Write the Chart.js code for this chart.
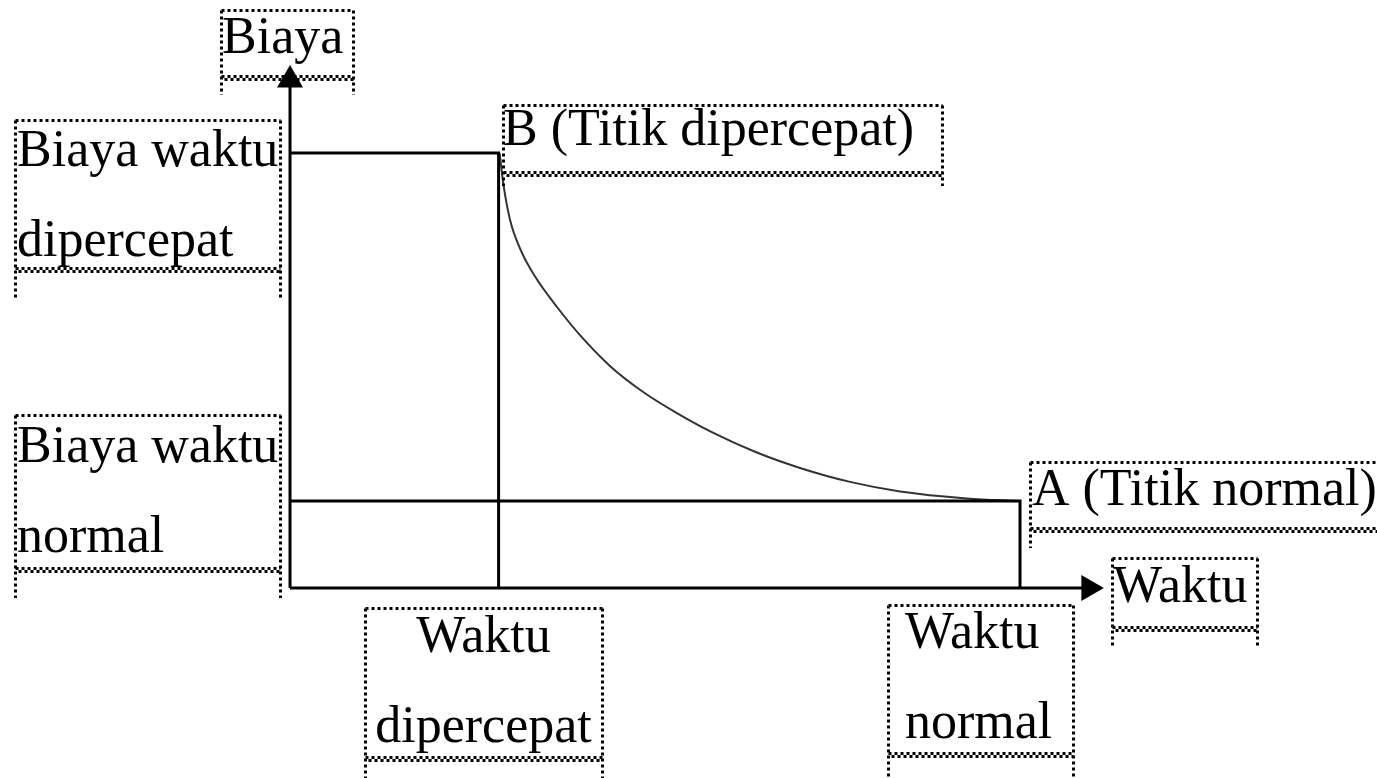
<!DOCTYPE html>
<html>
<head>
<meta charset="utf-8">
<title>Biaya - Waktu</title>
<script src="https://cdn.jsdelivr.net/npm/chart.js@4/dist/chart.umd.min.js"></script>
<style>
  body { margin: 0; background: #fff; }
  canvas { display: block; }
</style>
</head>
<body>
<canvas id="costTime" width="1377" height="778"></canvas>
<script>
// labels
var axisTitles = ['Biaya', 'Waktu'];
var timeLabels = [['Waktu', 'dipercepat'], ['Waktu', 'normal']];
var costLabels = [['Biaya waktu', 'dipercepat'], ['Biaya waktu', 'normal']];
var pointLabels = ['B (Titik dipercepat)', 'A (Titik normal)'];

// values (crash, normal)
var timeValues = [2, 7];
var costValues = [5, 1];

// time-cost curve from B to A
var curveTime = [2.01, 2.045, 2.11, 2.21, 2.35, 2.56, 2.80, 3.07, 3.39, 3.71, 4.03, 4.47, 4.89, 5.37, 5.85, 6.49, 7];
var curveCost = [5.0, 4.65, 4.23, 3.89, 3.58, 3.23, 2.88, 2.55, 2.25, 2.01, 1.80, 1.56, 1.38, 1.22, 1.11, 1.03, 1];

// axis ends (arrow heads)
var axisEnd = { time: 7.66, cost: 5.84 };

var curve = curveTime.map(function (t, i) { return { x: t, y: curveCost[i] }; });

// text boxes (layout only)
var boxes = [
    { lines: [axisTitles[0]], l: 221, t: 10, r: 353, b: 76, tail: 95, tx: 222, ty: [53] },
    { lines: costLabels[0], l: 15, t: 120, r: 280, b: 268, tail: 298, tx: 17, ty: [166, 256] },
    { lines: [pointLabels[0]], l: 503, t: 105, r: 942, b: 172, tail: 186, tx: 503, ty: [145] },
    { lines: costLabels[1], l: 15, t: 415, r: 280, b: 568, tail: 598, tx: 17, ty: [462, 552] },
    { lines: [pointLabels[1]], l: 1030, t: 462, r: 1382, b: 528, tail: 548, tx: 1032, ty: [505] },
    { lines: [axisTitles[1]], l: 1112, t: 558, r: 1257, b: 627, tail: 647, tx: 1113, ty: [602] },
    { lines: timeLabels[0], l: 365, t: 608, r: 602, b: 757, tail: 780, center: true, ty: [652, 742] },
    { lines: timeLabels[1], l: 888, t: 605, r: 1073, b: 753, tail: 780, tx: 905, ty: [648, 738] }
];

function seg(c, x1, y1, x2, y2) {
    c.beginPath();
    c.moveTo(x1, y1);
    c.lineTo(x2, y2);
    c.stroke();
}

var textBoxes = {
    id: 'textBoxes',
    afterDatasetsDraw: function (chart) {
        var c = chart.ctx;
        boxes.forEach(function (b) {
            c.save();
            c.strokeStyle = '#000';
            c.lineWidth = 3;
            c.setLineDash([3, 3]);
            var l = b.l + 0.5, r = b.r + 0.5, t = b.t + 0.5, bt = b.b + 0.5;
            seg(c, l, t, r, t);
            seg(c, l, t, l, b.tail);
            seg(c, r, t, r, b.tail);
            seg(c, l, bt, r, bt);
            c.lineDashOffset = 3;
            seg(c, l, bt + 3, r, bt + 3);
            c.restore();

            c.save();
            c.fillStyle = '#000';
            c.font = '52px "Liberation Serif", "Times New Roman", serif';
            c.textBaseline = 'alphabetic';
            b.lines.forEach(function (txt, i) {
                if (b.center) {
                    c.textAlign = 'center';
                    c.fillText(txt, (b.l + b.r) / 2, b.ty[i]);
                } else {
                    c.textAlign = 'left';
                    c.fillText(txt, b.tx, b.ty[i]);
                }
            });
            c.restore();
        });
    }
};

function arrowAtEnd(n) {
    return function (ctx) { return ctx.dataIndex === n - 1 ? 15 : 0; };
}

var ctx = document.getElementById('costTime').getContext('2d');
var chart = new Chart(ctx, {
    type: 'scatter',
    data: {
        datasets: [{
            // time axis
            data: [{ x: 0, y: 0 }, { x: axisEnd.time, y: 0 }],
            showLine: true,
            borderColor: '#000',
            backgroundColor: '#000',
            borderWidth: 3,
            pointStyle: 'triangle',
            rotation: 90,
            pointRadius: arrowAtEnd(2),
            pointBorderWidth: 0
        }, {
            // cost axis
            data: [{ x: 0, y: 0 }, { x: 0, y: axisEnd.cost }],
            showLine: true,
            borderColor: '#000',
            backgroundColor: '#000',
            borderWidth: 3,
            pointStyle: 'triangle',
            pointRadius: arrowAtEnd(2),
            pointBorderWidth: 0
        }, {
            // crash cost / crash time
            data: [{ x: 0, y: costValues[0] }, { x: timeValues[0], y: costValues[0] }, { x: timeValues[0], y: 0 }],
            showLine: true,
            borderColor: '#000',
            borderWidth: 3,
            pointRadius: 0
        }, {
            // normal cost / normal time
            data: [{ x: 0, y: costValues[1] }, { x: timeValues[1], y: costValues[1] }, { x: timeValues[1], y: 0 }],
            showLine: true,
            borderColor: '#000',
            borderWidth: 3,
            pointRadius: 0
        }, {
            data: curve,
            showLine: true,
            borderColor: '#333',
            borderWidth: 2,
            cubicInterpolationMode: 'monotone',
            pointRadius: 0
        }]
    },
    plugins: [textBoxes],
    options: {
        responsive: false,
        animation: false,
        layout: { padding: 0, autoPadding: false },
        plugins: {
            legend: { display: false },
            tooltip: { enabled: false }
        },
        scales: {
            x: { type: 'linear', min: -2.781, max: 10.423, display: false },
            y: { type: 'linear', min: -2.184, max: 6.759, display: false }
        }
    }
});
</script>
</body>
</html>
